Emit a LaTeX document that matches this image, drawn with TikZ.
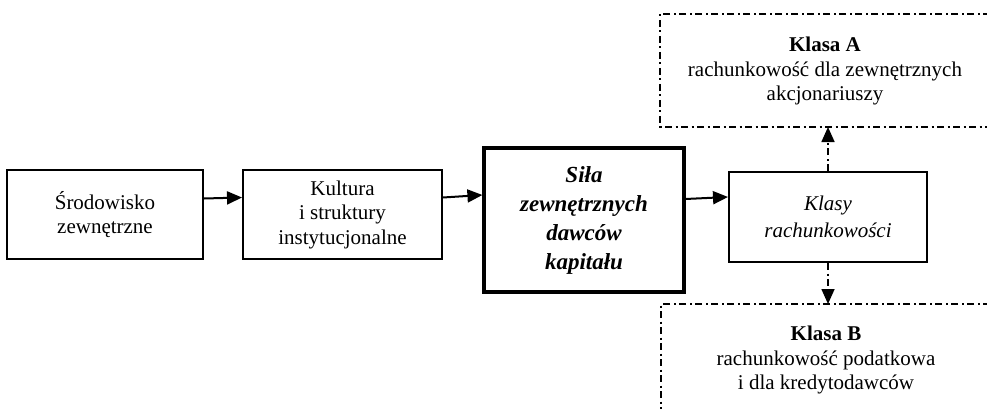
\documentclass[tikz,border=0pt]{standalone}
\usepackage{fontspec}
\setmainfont{Liberation Serif}
\usepackage{tikz}
\usetikzlibrary{arrows.meta}

\tikzset{
  blok/.style={draw, line width=2pt, align=center, inner sep=0pt,
    font=\fontsize{21}{24.5}\selectfont},
  sila/.style={blok, line width=3.2pt, font=\fontsize{23}{29}\selectfont\bfseries\itshape},
  strz/.style={line width=2pt, -{Triangle[length=15pt,width=13pt]}},
  kreskakrop/.style={line width=1.6pt, dash pattern=on 7pt off 3.5pt on 2pt off 3.5pt},
  klasa/.style={align=center, font=\fontsize{21}{24.5}\selectfont}
}

\begin{document}
\begin{tikzpicture}[x=1pt,y=-1pt]
  \useasboundingbox (0,0) rectangle (987,409);
  \node[blok, minimum width=196pt, minimum height=89pt] (srod) at (105,214.5)
    {Środowisko\\zewnętrzne};
  \node[blok, minimum width=199pt, minimum height=89pt] (kult) at (342.5,214.5)
    {Kultura\\i struktury\\instytucjonalne};
  \node[sila, minimum width=200pt, minimum height=144pt] (dawc) at (584,220)
    {Siła\\zewnętrznych\\dawców\\kapitału};
  \node[blok, minimum width=198pt, minimum height=90pt, font=\fontsize{21}{27}\selectfont\itshape]
    (klasy) at (828,217) {Klasy\\rachunkowości};
  % klasy A i B -- ramki otwarte z prawej
  \draw[kreskakrop] (990,14) -- (660,14) -- (660,127) -- (990,127);
  \draw[kreskakrop] (990,304) -- (661,304) -- (661,412);
  \coordinate (ka) at (828,127);
  \coordinate (kb) at (828,304);
  \node[klasa] (opisA) at (825,71) {\textbf{Klasa A}\\rachunkowość dla zewnętrznych\\akcjonariuszy};
  \node[klasa] (opisB) at (826,360) {\textbf{Klasa B}\\rachunkowość podatkowa\\i dla kredytodawców};
  \draw[strz] ([yshift=16pt]srod.east) -- ([yshift=17pt]kult.west);
  \draw[strz] ([yshift=17pt]kult.east) -- ([yshift=25pt]dawc.west);
  \draw[strz] ([yshift=21pt]dawc.east) -- ([yshift=20pt]klasy.west);
  \draw[strz, kreskakrop] (klasy.north) -- (ka);
  \draw[strz, kreskakrop] (klasy.south) -- (kb);
\end{tikzpicture}
\end{document}
